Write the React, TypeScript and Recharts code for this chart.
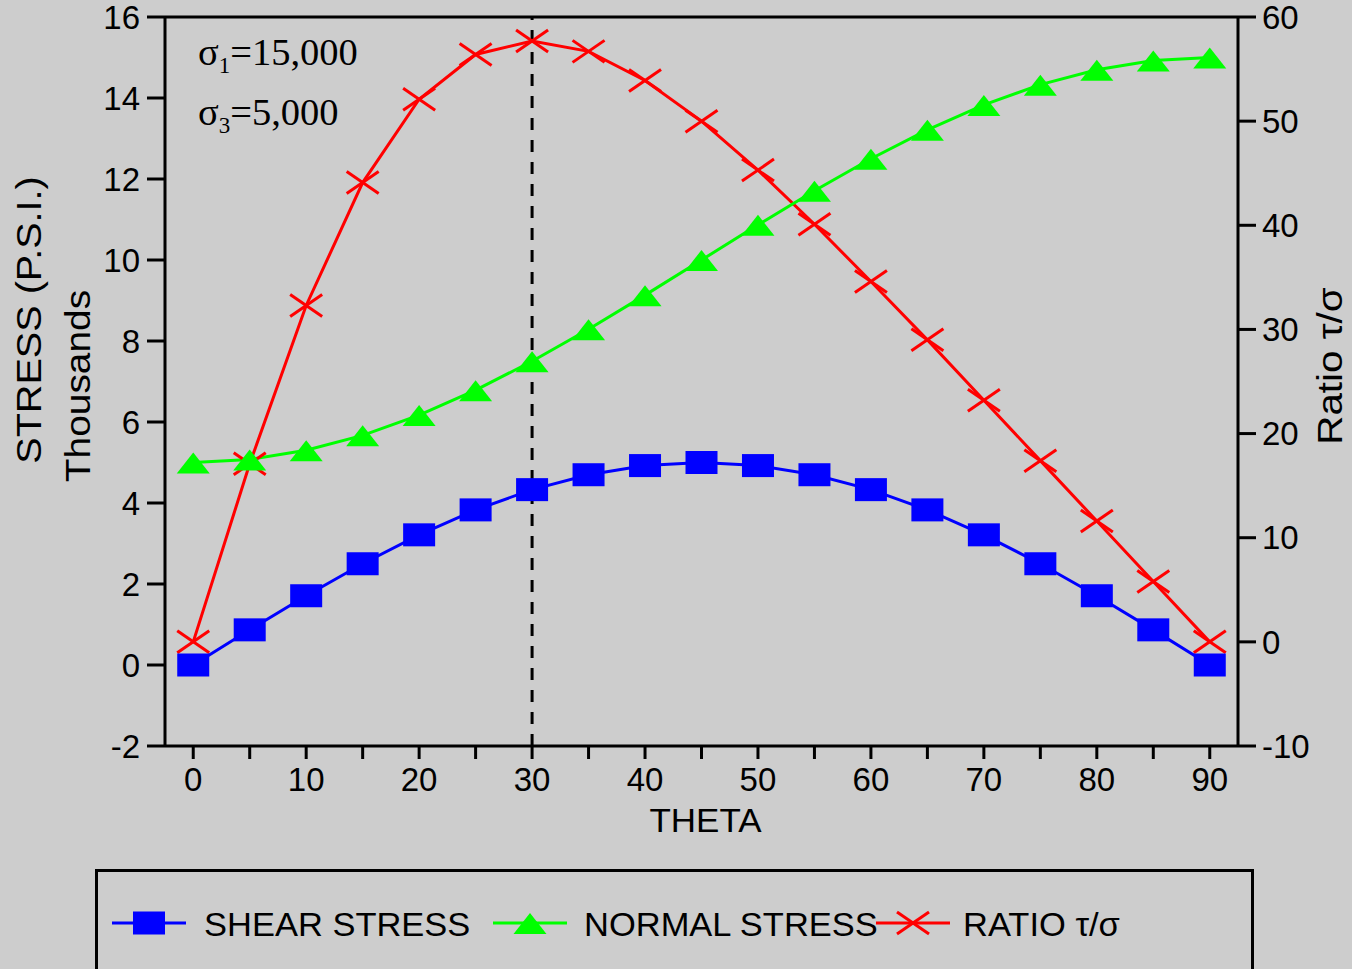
import {
  ComposedChart,
  Line,
  XAxis,
  YAxis,
  ReferenceLine,
  Legend,
  Customized,
} from "recharts";

const theta = [0, 5, 10, 15, 20, 25, 30, 35, 40, 45, 50, 55, 60, 65, 70, 75, 80, 85, 90];
const shearStress = [
  0, 0.868, 1.71, 2.5, 3.214, 3.83, 4.33, 4.698, 4.924, 5.0, 4.924, 4.698, 4.33, 3.83,
  3.214, 2.5, 1.71, 0.868, 0,
];
const normalStress = [
  5.0, 5.076, 5.302, 5.67, 6.17, 6.786, 7.5, 8.29, 9.132, 10.0, 10.868, 11.71, 12.5,
  13.214, 13.83, 14.33, 14.698, 14.924, 15.0,
];
const ratio = [
  0, 17.1, 32.3, 44.1, 52.1, 56.4, 57.7, 56.7, 53.9, 50.0, 45.3, 40.1, 34.6, 29.0, 23.2,
  17.4, 11.6, 5.8, 0,
];
const xTicks = [0, 5, 10, 15, 20, 25, 30, 35, 40, 45, 50, 55, 60, 65, 70, 75, 80, 85, 90];
const leftTicks = [-2, 0, 2, 4, 6, 8, 10, 12, 14, 16];
const rightTicks = [-10, 0, 10, 20, 30, 40, 50, 60];

const data = theta.map((t, i) => ({
  theta: t,
  shear: shearStress[i],
  normal: normalStress[i],
  ratio: ratio[i],
}));

const BLUE = "#0000ff";
const GREEN = "#00ff00";
const RED = "#ff0000";
const BG = "#cdcdcd";
const SANS = "'Liberation Sans', Arial, sans-serif";
const SERIF = "'Liberation Serif', 'Times New Roman', serif";

const Square = ({ cx, cy }: { cx: number; cy: number }) => (
  <rect x={cx - 16} y={cy - 11.5} width={32} height={23} fill={BLUE} />
);
const Triangle = ({ cx, cy }: { cx: number; cy: number }) => (
  <polygon
    points={`${cx},${cy - 10} ${cx - 16.5},${cy + 11} ${cx + 16.5},${cy + 11}`}
    fill={GREEN}
  />
);
const Cross = ({ cx, cy }: { cx: number; cy: number }) => (
  <g stroke={RED} strokeWidth={3}>
    <line x1={cx - 16} y1={cy - 11} x2={cx + 16} y2={cy + 11} />
    <line x1={cx - 16} y1={cy + 11} x2={cx + 16} y2={cy - 11} />
  </g>
);

const dotFn = (Shape: any) => (props: any) => (
  <Shape key={`d-${props.index}`} cx={props.cx} cy={props.cy} />
);

const legendItems = [
  { label: "SHEAR STRESS", color: BLUE, Shape: Square },
  { label: "NORMAL STRESS", color: GREEN, Shape: Triangle },
  { label: "RATIO τ/σ", color: RED, Shape: Cross },
];
// item start x, text start x inside the legend box
const legendPos = [
  [17, 109],
  [398, 489],
  [781, 868],
];

const LegendBox = () => (
  <svg width={1160} height={100} style={{ display: "block" }}>
    <rect x={1.5} y={1.5} width={1156} height={140} fill="none" stroke="#000" strokeWidth={3} />
    {legendItems.map((item, i) => {
      const [x0, tx] = legendPos[i];
      return (
        <g key={item.label}>
          <line x1={x0} y1={54} x2={x0 + 74} y2={54} stroke={item.color} strokeWidth={3} />
          <item.Shape cx={x0 + 37} cy={54} />
          <text
            transform={`translate(${tx},67) scale(1.045,1)`}
            fontSize={33}
            fontFamily={SANS}
            fill="#000"
          >
            {item.label}
          </text>
        </g>
      );
    })}
  </svg>
);

const LeftLabel = () => (
  <g fontFamily={SANS} fontSize={36} fill="#000">
    <text textAnchor="middle" transform="translate(41,320) rotate(-90) scale(1.1,1)">
      STRESS (P.S.I.)
    </text>
    <text textAnchor="middle" transform="translate(90,386) rotate(-90) scale(1.08,1)">
      Thousands
    </text>
  </g>
);

const RightLabel = () => (
  <text
    textAnchor="middle"
    fontFamily={SANS}
    fontSize={36}
    fill="#000"
    transform="translate(1342,366) rotate(-90) scale(1.12,1)"
  >
    Ratio τ/σ
  </text>
);

const XLabel = (props: any) => {
  const vb = props.viewBox || {};
  return (
    <text
      textAnchor="middle"
      fontFamily={SANS}
      fontSize={33}
      fill="#000"
      transform={`translate(${vb.x + vb.width / 2 + 4},${vb.y + 86}) scale(1.06,1)`}
    >
      THETA
    </text>
  );
};

const Annotations = () => (
  <g fontFamily={SERIF} fontSize={38.5} fill="#000">
    <text x={198} y={65}>
      σ<tspan fontSize={23} dy={8}>1</tspan>
      <tspan dy={-8}>=15,000</tspan>
    </text>
    <text x={198} y={125}>
      σ<tspan fontSize={23} dy={8}>3</tspan>
      <tspan dy={-8}>=5,000</tspan>
    </text>
  </g>
);

const axisStroke = { stroke: "#000", strokeWidth: 3 };
const tickStyle = { fontSize: 33, fill: "#000", fontFamily: SANS };

export default function App() {
  return (
    <div style={{ position: "absolute", left: 0, top: 0, width: 1352, height: 969, background: BG }}>
      <ComposedChart
        width={1352}
        height={969}
        data={data}
        margin={{ top: 17, right: 0, bottom: 0, left: 0 }}
      >
        <XAxis
          dataKey="theta"
          type="number"
          domain={[-2.5, 92.5]}
          ticks={xTicks}
          interval={0}
          tickFormatter={(v) => (v % 10 === 0 ? String(v) : "")}
          height={123}
          tickSize={13}
          tickMargin={9}
          axisLine={axisStroke}
          tickLine={axisStroke}
          tick={tickStyle}
          label={{ content: <XLabel /> }}
        />
        <YAxis
          yAxisId="left"
          width={165}
          domain={[-2, 16]}
          ticks={leftTicks}
          interval={0}
          tickSize={18}
          tickMargin={7}
          axisLine={axisStroke}
          tickLine={axisStroke}
          tick={tickStyle}
        />
        <YAxis
          yAxisId="right"
          orientation="right"
          width={114}
          domain={[-10, 60]}
          ticks={rightTicks}
          interval={0}
          tickSize={18}
          tickMargin={6}
          axisLine={axisStroke}
          tickLine={axisStroke}
          tick={tickStyle}
        />
        <ReferenceLine yAxisId="left" y={16} stroke="#000" strokeWidth={3} />
        <ReferenceLine
          yAxisId="left"
          x={30}
          stroke="#000"
          strokeWidth={3}
          strokeDasharray="12 10"
        />
        <Line
          yAxisId="right"
          dataKey="ratio"
          name="RATIO τ/σ"
          type="linear"
          stroke={RED}
          strokeWidth={3}
          dot={dotFn(Cross)}
          activeDot={false}
          isAnimationActive={false}
        />
        <Line
          yAxisId="left"
          dataKey="normal"
          name="NORMAL STRESS"
          type="linear"
          stroke={GREEN}
          strokeWidth={3}
          dot={dotFn(Triangle)}
          activeDot={false}
          isAnimationActive={false}
        />
        <Line
          yAxisId="left"
          dataKey="shear"
          name="SHEAR STRESS"
          type="linear"
          stroke={BLUE}
          strokeWidth={3}
          dot={dotFn(Square)}
          activeDot={false}
          isAnimationActive={false}
        />
        <Legend
          verticalAlign="bottom"
          content={<LegendBox />}
          wrapperStyle={{ left: 95, top: 869, width: 1160, height: 100 }}
        />
        <Customized component={<LeftLabel />} />
        <Customized component={<RightLabel />} />
        <Customized component={<Annotations />} />
      </ComposedChart>
    </div>
  );
}
